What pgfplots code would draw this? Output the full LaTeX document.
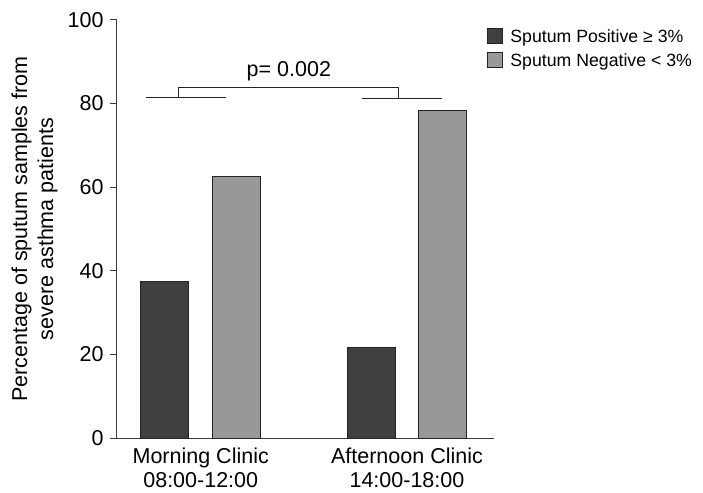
\documentclass[border=0pt]{standalone}
\usepackage{pgfplots}
\pgfplotsset{compat=1.18}
\usepackage{fontspec}
\setmainfont{Liberation Sans}
\definecolor{darkbar}{RGB}{64,64,64}
\definecolor{lightbar}{RGB}{151,152,154}
\definecolor{edge}{RGB}{35,35,35}
\definecolor{axisgray}{RGB}{60,60,60}
\begin{document}
\begin{tikzpicture}
\useasboundingbox (-117pt,-54pt) rectangle (586pt,438pt);
\begin{axis}[
  at={(0,0)}, anchor=south west,
  scale only axis, width=377pt, height=418pt,
  xmin=-0.406, xmax=1.422, ymin=0, ymax=100,
  axis lines=left, axis line style={-, draw=axisgray, line width=1pt},
  xtick={0,1},
  xticklabels={{Morning Clinic\\08:00-12:00},{Afternoon Clinic\\14:00-18:00}},
  x tick label style={align=center, font=\fontsize{21.5}{24}\selectfont, yshift=1pt},
  major x tick style={draw=none},
  ytick={0,20,40,60,80,100},
  y tick label style={font=\fontsize{21.5}{24}\selectfont, xshift=-3pt},
  major y tick style={draw=axisgray, line width=1pt},
  tick align=outside, major tick length=7pt,
  /pgf/number format/assume math mode=true,
  ylabel={Percentage of sputum samples from\\severe asthma patients},
  every axis y label/.style={at={(rel axis cs:0,0.5)}, xshift=-82.5pt, rotate=90, anchor=center, align=center, font=\fontsize{21.5}{26}\selectfont},
  legend style={at={(rel axis cs:0.982,0.983)}, anchor=north west, draw=none, fill=none, inner sep=0pt, font=\fontsize{17.7}{20}\selectfont, row sep=6pt,
    /tikz/every odd column/.append style={column sep=5pt}},
  legend cell align=left,
]
\addplot[ybar, bar width=0.2326, bar shift=-0.1737, fill=darkbar, draw=edge, line width=1pt,
  legend image code/.code={\draw[fill=darkbar, draw=edge, line width=1pt] (0pt,-7pt) rectangle (15pt,8pt);}]
  coordinates {(0,37.5) (1,21.6)};
\addlegendentry{Sputum Positive ≥ 3\%}
\addplot[ybar, bar width=0.2326, bar shift=0.1737, fill=lightbar, draw=edge, line width=1pt,
  legend image code/.code={\draw[fill=lightbar, draw=edge, line width=1pt] (0pt,-7pt) rectangle (15pt,8pt);}]
  coordinates {(0,62.5) (1,78.4)};
\addlegendentry{Sputum Negative < 3\%}
\addplot[edge, line width=1pt, forget plot] coordinates {(-0.2655,81.4) (0.1206,81.4)};
\addplot[edge, line width=1pt, forget plot] coordinates {(-0.1056,81.4) (-0.1056,83.8) (0.9603,83.8) (0.9603,81.2)};
\addplot[edge, line width=1pt, forget plot] coordinates {(0.7825,81.2) (1.170,81.2)};
\node[anchor=base, font=\fontsize{21.5}{24}\selectfont] at (axis cs:0.4273,86.6) {p= 0.002};
\end{axis}
\end{tikzpicture}
\end{document}
